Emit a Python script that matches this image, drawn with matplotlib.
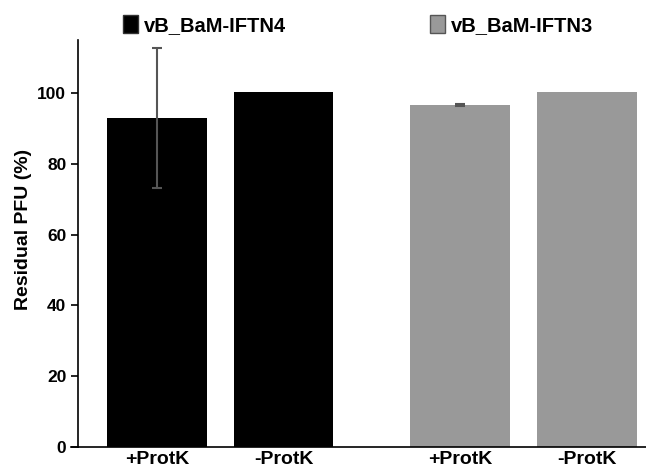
import matplotlib
matplotlib.use("Agg")
import matplotlib.pyplot as plt
from matplotlib.patches import Patch

plt.rcParams['font.family'] = ['Liberation Sans', 'DejaVu Sans']
plt.rcParams['font.weight'] = 'bold'

# data
labels = ["+ProtK", "-ProtK", "+ProtK", "-ProtK"]
phage4 = [92.8, 100.3]
phage4_err = [19.8, 0]
phage3 = [96.6, 100.3]
phage3_err = [0.3, 0]
x4 = [0, 1]
x3 = [2.4, 3.4]

fig = plt.figure(figsize=(6.46, 4.68), dpi=100)
ax = fig.add_axes([0.121, 0.045, 0.879, 0.87])

ekw = dict(ecolor="#555555", elinewidth=1.5, capsize=3.5, capthick=1.5)
ax.bar(x4, phage4, width=0.79, color="black")
ax.bar(x3, phage3, width=0.79, color="#999999")
# only draw error bars where there is one
for xs, ys, es in [(x4, phage4, phage4_err), (x3, phage3, phage3_err)]:
    for xx, yy, ee in zip(xs, ys, es):
        if ee > 0:
            ax.errorbar(xx, yy, yerr=ee, fmt="none", **ekw)

ax.set_ylim(0, 115)
ax.set_xlim(-0.625, 3.87)
ax.set_yticks([0, 20, 40, 60, 80, 100])
ax.set_xticks(x4 + x3)
ax.set_xticklabels(labels, fontsize=14, fontweight="bold")
ax.tick_params(axis="x", length=0, pad=3)
ax.tick_params(axis="y", labelsize=12.5, length=5, width=1.2)
ax.set_ylabel("Residual PFU (%)", fontsize=14, fontweight="bold")
ax.yaxis.set_label_coords(-0.081, 0.533)
ax.spines["top"].set_visible(False)
ax.spines["right"].set_visible(False)
ax.spines["left"].set_linewidth(1.2)
ax.spines["bottom"].set_linewidth(1.2)
# baseline sticks out a little left of the y axis
ax.plot([-0.013, 0], [0, 0], transform=ax.transAxes, color="black", lw=1.2, clip_on=False)

legkw = dict(loc="center left", frameon=False, fontsize=14.5, handlelength=0.75,
             handleheight=1.0, handletextpad=0.3, borderaxespad=0, borderpad=0)
leg1 = ax.legend([Patch(facecolor="black", edgecolor="#333333")], ["vB_BaM-IFTN4"],
                 bbox_to_anchor=(0.079, 1.037), **legkw)
ax.add_artist(leg1)
ax.legend([Patch(facecolor="#999999", edgecolor="#555555")], ["vB_BaM-IFTN3"],
          bbox_to_anchor=(0.62, 1.037), **legkw)

fig.savefig("out.png", dpi=100)
